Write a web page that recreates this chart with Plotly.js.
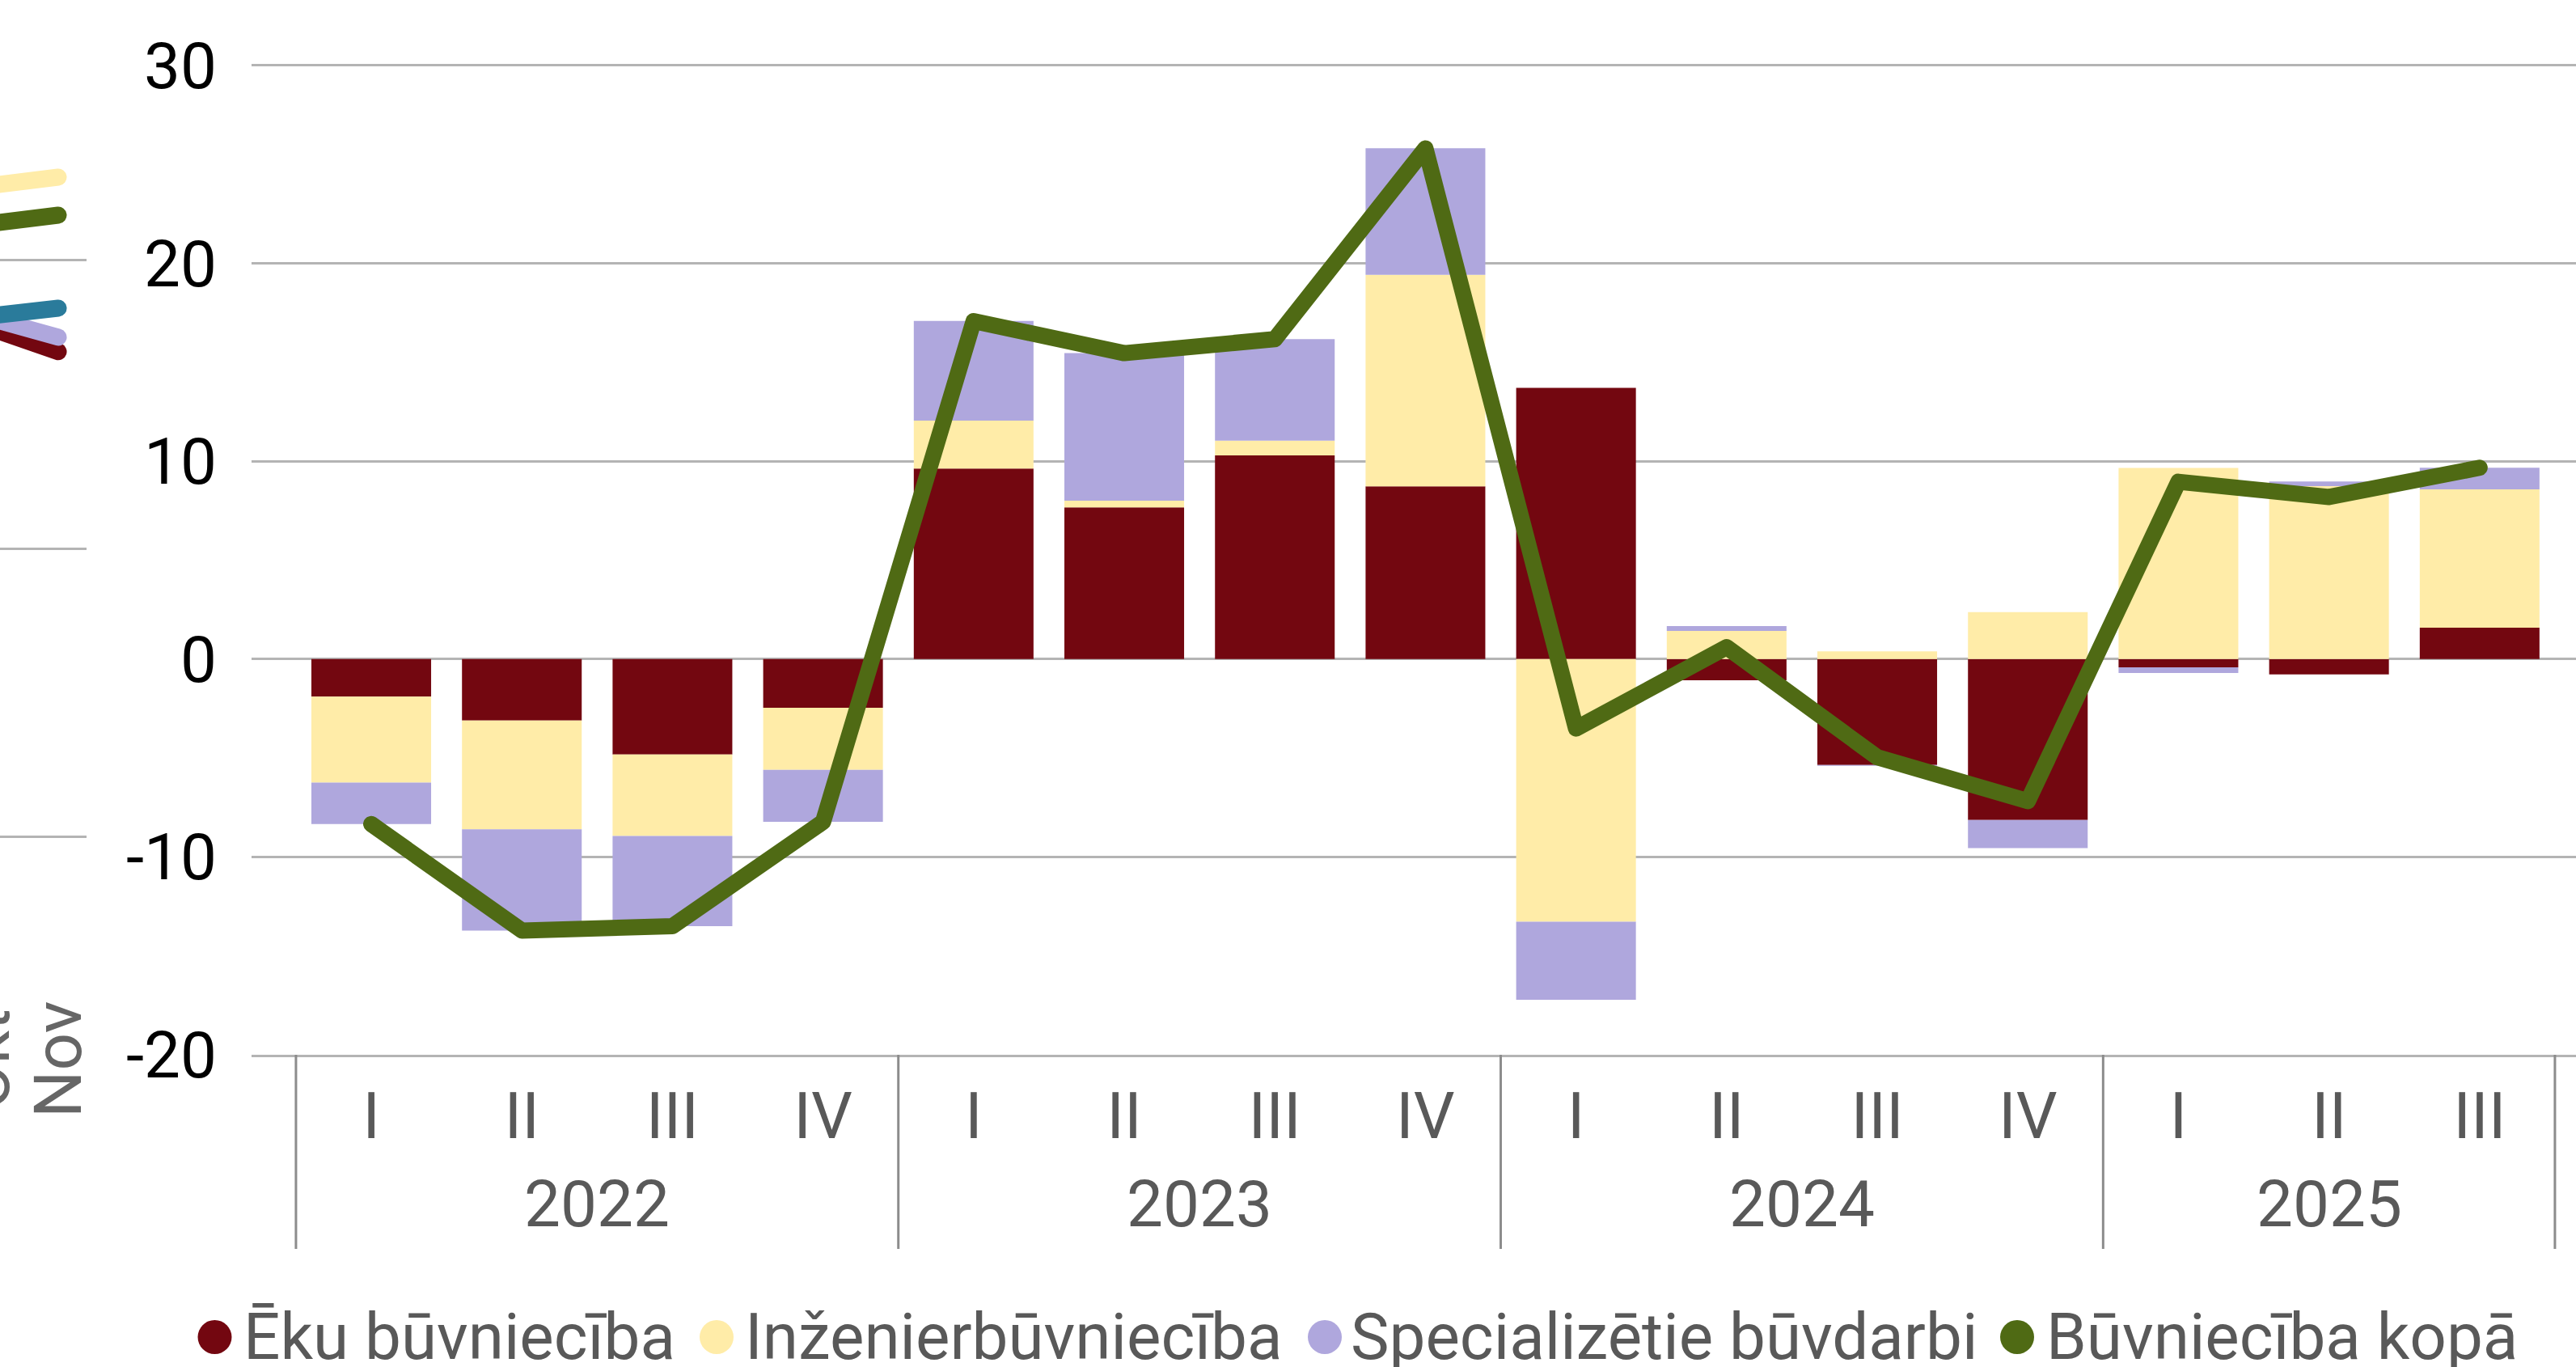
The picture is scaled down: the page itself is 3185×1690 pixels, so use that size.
<!DOCTYPE html>
<html>
<head>
<meta charset="utf-8">
<script src="https://cdn.plot.ly/plotly-3.0.1.min.js"></script>
<style>
html, body { margin: 0; padding: 0; background: #ffffff; }
#chart { width: 3185px; height: 1690px; }
.scatterlayer .js-line { stroke-linecap: round; stroke-linejoin: round; }
</style>
</head>
<body>
<div id="chart"></div>
<script>
// ---- main chart data ----
const years = ['2022','2022','2022','2022','2023','2023','2023','2023','2024','2024','2024','2024','2025','2025','2025'];
const quarters = ['I','II','III','IV','I','II','III','IV','I','II','III','IV','I','II','III'];
const ekuBuvnieciba = [-1.90, -3.11, -4.82, -2.46, 9.63, 7.67, 10.29, 8.73, 13.71, -1.07, -5.35, -8.13, -0.42, -0.78, 1.59];
const inzenierbuvnieciba = [-4.34, -5.49, -4.12, -3.14, 2.42, 0.33, 0.75, 10.69, -13.27, 1.42, 0.39, 2.37, 9.66, 8.74, 6.99];
const specializetieBuvdarbi = [-2.10, -5.12, -4.56, -2.63, 5.04, 7.46, 5.13, 6.40, -3.95, 0.25, -0.05, -1.42, -0.28, 0.23, 1.09];
const buvniecibaKopa = [-8.34, -13.72, -13.50, -8.23, 17.08, 15.46, 16.17, 25.81, -3.51, 0.60, -4.96, -7.18, 8.96, 8.19, 9.67];
const seriesNames = ['Ēku būvniecība', 'Inženierbūvniecība', 'Specializētie būvdarbi', 'Būvniecība kopā'];
const seriesColors = ['#730710', '#FFECA8', '#AFA7DD', '#4F6A14'];
const yTicks = [-20, -10, 0, 10, 20, 30];

// ---- fragment of the neighbouring chart (left edge) ----
const nbMonths = ['Okt', 'Nov'];
const nbRed = [17.69, 16.83];
const nbLavender = [18.03, 17.33];
const nbTeal = [18.06, 18.34];
const nbGreen = [21.26, 21.57];
const nbYellow = [22.58, 22.89];
const nbColors = ['#730710', '#AFA7DD', '#2A7B9B', '#4F6A14', '#FFECA8'];

const W = 3185, H = 1690;
const FONT = 'Roboto, sans-serif';
const cats = years.map((y, i) => y + ' ' + quarters[i]);

const traces = [];
[ekuBuvnieciba, inzenierbuvnieciba, specializetieBuvdarbi].forEach((vals, i) => {
  traces.push({
    type: 'bar', x: cats, y: vals, name: seriesNames[i],
    marker: { color: seriesColors[i], line: { width: 0 } },
    showlegend: false, hoverinfo: 'skip', xaxis: 'x', yaxis: 'y'
  });
});
traces.push({
  type: 'scatter', mode: 'lines', x: cats, y: buvniecibaKopa, name: seriesNames[3],
  line: { color: seriesColors[3], width: 20 },
  showlegend: false, hoverinfo: 'skip', xaxis: 'x', yaxis: 'y'
});
[nbRed, nbLavender, nbTeal, nbGreen, nbYellow].forEach((vals, i) => {
  traces.push({
    type: 'scatter', mode: 'lines', x: nbMonths, y: vals,
    line: { color: nbColors[i], width: 21 },
    showlegend: false, hoverinfo: 'skip', xaxis: 'x2', yaxis: 'y2'
  });
});

const annotations = [];
const shapes = [];

// year group labels and group dividers (second level of the category axis)
const axisY = 1304, dividerBottom = 1544, yearLabelY = 1489;
const groups = [];
years.forEach((y, i) => {
  if (!groups.length || groups[groups.length - 1].year !== y) groups.push({ year: y, first: i, last: i });
  else groups[groups.length - 1].last = i;
});
const dividerPos = [groups[0].first - 0.5].concat(groups.map(g => g.last + 0.5));
groups.forEach(g => {
  annotations.push({
    xref: 'x', yref: 'paper', x: (g.first + g.last) / 2, y: 1 - yearLabelY / H,
    xanchor: 'center', yanchor: 'middle', text: g.year, showarrow: false,
    font: { family: FONT, size: 80, color: '#595959' }
  });
});
dividerPos.forEach(p => {
  shapes.push({
    type: 'line', xref: 'x', yref: 'paper', x0: p, x1: p,
    y0: 1 - axisY / H, y1: 1 - dividerBottom / H,
    line: { color: '#8C8C8C', width: 3 }, layer: 'above'
  });
});

// legend built from annotations + circle shapes
const legendMarkerX = [265.5, 886, 1638, 2494];
const legendTextX = [299, 919, 1668, 2528];
const legendY = 1653;
seriesNames.forEach((nm, i) => {
  annotations.push({
    xref: 'paper', yref: 'paper', x: legendTextX[i] / W, y: 1 - legendY / H,
    xanchor: 'left', yanchor: 'middle', text: nm, showarrow: false,
    font: { family: FONT, size: 80, color: '#595959' }
  });
  shapes.push({
    type: 'circle', xref: 'paper', yref: 'paper',
    xsizemode: 'pixel', ysizemode: 'pixel',
    xanchor: legendMarkerX[i] / W, yanchor: 1 - legendY / H,
    x0: -21, x1: 21, y0: -21, y1: 21,
    fillcolor: seriesColors[i], line: { width: 0 }
  });
});
// neighbour chart month labels (rotated)
const nbLabelX = [-17, 72];
nbMonths.forEach((m, i) => {
  annotations.push({
    xref: 'paper', yref: 'paper', x: nbLabelX[i] / W, y: 1 - 1310 / H,
    xanchor: 'center', yanchor: 'middle', textangle: -90, text: m, showarrow: false,
    font: { family: FONT, size: 82, color: '#666666' }
  });
});

const layout = {
  width: W, height: H,
  margin: { l: 0, r: 0, t: 0, b: 0 },
  paper_bgcolor: '#ffffff', plot_bgcolor: 'rgba(0,0,0,0)',
  barmode: 'relative', bargap: 0.205,
  showlegend: false,
  font: { family: FONT, size: 80, color: '#595959' },
  xaxis: {
    type: 'category', domain: [311 / W, 1], anchor: 'y',
    range: [-0.795, 14.64],
    tickvals: cats, ticktext: quarters,
    showgrid: false, zeroline: false,
    showline: true, linecolor: '#B4B4B4', linewidth: 3,
    ticks: 'outside', ticklen: 4, tickcolor: 'rgba(0,0,0,0)',
    tickfont: { family: FONT, size: 80, color: '#595959' }
  },
  yaxis: {
    domain: [1 - axisY / H, 1 - 78.5 / H], anchor: 'x',
    range: [-20, 30.1], tickvals: yTicks, ticktext: yTicks.map(String),
    showgrid: true, gridcolor: '#B4B4B4', gridwidth: 3,
    zeroline: false, showline: false,
    ticks: 'outside', ticklen: 26, tickcolor: 'rgba(0,0,0,0)',
    tickfont: { family: FONT, size: 80, color: '#000000' }
  },
  xaxis2: {
    type: 'category', domain: [0, 107 / W], anchor: 'y2',
    range: [0.191, 1.393], showgrid: false, zeroline: false,
    showline: false, showticklabels: false, ticks: ''
  },
  yaxis2: {
    domain: [1 - 1210 / H, 1], anchor: 'x2',
    range: [-4.94, 29.04], dtick: 10, tick0: 0,
    showgrid: true, gridcolor: '#B4B4B4', gridwidth: 3,
    zeroline: false, showline: false, showticklabels: false, ticks: ''
  },
  annotations: annotations,
  shapes: shapes
};

Plotly.newPlot('chart', traces, layout, { staticPlot: true, displayModeBar: false });
</script>
</body>
</html>
